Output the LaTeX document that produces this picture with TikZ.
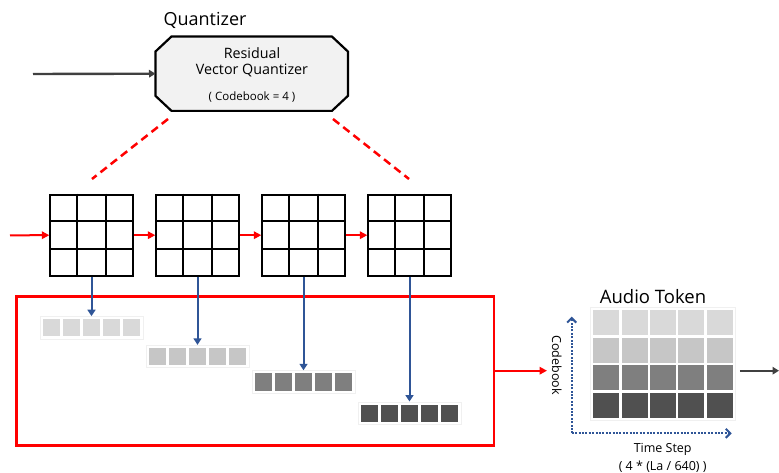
\documentclass[tikz,border=0pt]{standalone}
\usepackage{fontspec}
\setmainfont{Open Sans}
\usetikzlibrary{arrows.meta,calc}

\definecolor{rvqfill}{HTML}{F2F2F2}
\definecolor{arrgray}{HTML}{404040}
\definecolor{axblue}{HTML}{2F5597}
\definecolor{tokA}{HTML}{D9D9D9}
\definecolor{tokB}{HTML}{C6C6C6}
\definecolor{tokC}{HTML}{7F7F7F}
\definecolor{tokD}{HTML}{505050}
\definecolor{paleframe}{HTML}{F0F0F0}

\tikzset{
  rvqbox/.style={draw=black, line width=2.2pt, fill=rvqfill, line join=miter},
  gridbox/.style={draw=black, line width=1.9pt, minimum width=82.5pt, minimum height=81pt, inner sep=0pt},
  gridline/.style={draw=black, line width=1.9pt},
  redarrow/.style={draw=red, line width=2pt, -{Triangle[length=7.5pt,width=7.5pt]}},
  redbox/.style={draw=red, line width=2.5pt, inner sep=0pt},
  redcut/.style={draw=red, line width=2.5pt, dash pattern=on 8pt off 5pt},
  bluearrow/.style={draw=axblue, line width=2pt, -{Triangle[length=6.5pt,width=8pt]}},
  grayarrow/.style={draw=arrgray, line width=2.4pt, -{Triangle[length=6.5pt,width=7.5pt]}},
  rowframe/.style={draw=paleframe, fill=white, line width=0.8pt, minimum width=103pt, minimum height=22.5pt, inner sep=0pt},
  tokcell/.style={minimum size=17.3pt, inner sep=0pt},
  tokframe/.style={draw=paleframe, fill=white, line width=0.8pt, minimum width=145pt, minimum height=112.3pt, inner sep=0pt},
  atcell/.style={minimum width=26pt, minimum height=25pt, inner sep=0pt},
  axis/.style={draw=axblue, line width=2pt, dash pattern=on 2pt off 1.4pt, -{Straight Barb[length=4.5pt,width=9pt,line width=2pt]}},
  lbl/.style={inner sep=0pt, text=black},
}

\begin{document}
\begin{tikzpicture}[x=1pt,y=-1pt]
\useasboundingbox (0,0) rectangle (779,473);

% quantizer block
\node[lbl, font=\fontsize{18}{20}\selectfont] (qtitle) at (205,20) {Quantizer};
\node[minimum width=192pt, minimum height=74pt, inner sep=0pt] (rvq) at (251.7,73.7) {};
\draw[rvqbox]
  ([xshift=16pt]rvq.north west) -- ([xshift=-16pt]rvq.north east)
  -- ([yshift=-15pt]rvq.north east) -- ([yshift=15pt]rvq.south east)
  -- ([xshift=-16pt]rvq.south east) -- ([xshift=16pt]rvq.south west)
  -- ([yshift=15pt]rvq.south west) -- ([yshift=-15pt]rvq.north west) -- cycle;
\node[lbl, font=\fontsize{14.3}{16}\selectfont] (rvq1) at (252,53) {Residual};
\node[lbl, font=\fontsize{14.3}{16}\selectfont] (rvq2) at (252,70) {Vector Quantizer};
\node[lbl, font=\fontsize{11.5}{13}\selectfont] (rvq3) at (252,97) {( Codebook = 4 )};

\coordinate (qin) at (33,74);
\draw[grayarrow] (qin) -- (rvq.west);

% dashed zoom lines
\coordinate (cutL0) at (168,119);
\coordinate (cutL1) at (92,179);
\coordinate (cutR0) at (333,119);
\coordinate (cutR1) at (409,179);
\draw[redcut] (cutL0) -- (cutL1);
\draw[redcut] (cutR0) -- (cutR1);

% codebook grids
\foreach \i/\x in {1/91.5,2/197.5,3/303.5,4/409.5} {
  \node[gridbox] (g\i) at (\x,235.2) {};
  \foreach \t in {1,2} {
    \draw[gridline] ($(g\i.north west)!\t/3!(g\i.north east)$) -- ($(g\i.south west)!\t/3!(g\i.south east)$);
    \draw[gridline] ($(g\i.north west)!\t/3!(g\i.south west)$) -- ($(g\i.north east)!\t/3!(g\i.south east)$);
  }
}
\coordinate (rin) at (10,235.3);
\draw[redarrow] (rin) -- (g1.west);
\draw[redarrow] (g1.east) -- (g2.west);
\draw[redarrow] (g2.east) -- (g3.west);
\draw[redarrow] (g3.east) -- (g4.west);

% collected token rows
\node[redbox, minimum width=477.3pt, minimum height=149.4pt] (rbox) at (255.35,371) {};
\foreach \i/\x/\y/\c in {1/91.5/327.8/tokA, 2/197.5/356.5/tokB, 3/303.5/381.9/tokC, 4/409.5/413.2/tokD} {
  \node[rowframe] (r\i) at (\x,\y) {};
  \foreach \k in {1,...,5}
    \node[tokcell, fill=\c] (r\i c\k) at ([xshift={(\k-3)*20pt}]r\i.center) {};
  \draw[bluearrow] (g\i.south) -- (r\i.north);
}

\coordinate (tokin) at (547,370.7);
\draw[redarrow] (rbox.east |- tokin) -- (tokin);

% audio token matrix
\node[lbl, font=\fontsize{18.5}{20}\selectfont] (attitle) at (653,297) {Audio Token};
\node[tokframe] (tok) at (662.9,364) {};
\foreach \j/\c in {1/tokA,2/tokB,3/tokC,4/tokD}
  \foreach \k in {1,...,5}
    \node[atcell, fill=\c] (t\j\k) at ({606.3+28.3*(\k-1)},{322.5+27.7*(\j-1)}) {};

\coordinate (ax0) at (571.7,433.3);
\coordinate (axy) at (571.7,316.7);
\coordinate (axx) at (731.7,433.3);
\draw[axis] (ax0) -- (axy);
\draw[axis] (ax0) -- (axx);
\node[lbl, rotate=-90, font=\fontsize{12.5}{14}\selectfont] (cb) at (556.7,365) {Codebook};
\node[lbl, font=\fontsize{12.5}{14}\selectfont] (ts1) at (662.7,449) {Time Step};
\node[lbl, font=\fontsize{12.5}{14}\selectfont] (ts2) at (662.7,466.7) {( 4 * (La / 640) )};

\coordinate (tokout) at (779,370.7);
\draw[grayarrow, shorten <=4pt] (tok.east |- tokout) -- (tokout);
\end{tikzpicture}
\end{document}
